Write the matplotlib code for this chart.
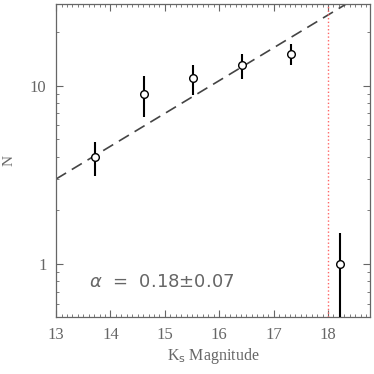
import numpy as np
import matplotlib
matplotlib.use("Agg")
import matplotlib.pyplot as plt
from matplotlib.ticker import MultipleLocator, FixedLocator, NullFormatter

# binned counts
mag = [13.72, 14.62, 15.52, 16.42, 17.32, 18.22]
counts = [4.0, 9.0, 11.0, 13.0, 15.0, 1.0]
err_lo = [0.87, 2.35, 2.1, 2.1, 2.0, 0.6]
err_hi = [0.85, 2.3, 2.05, 2.1, 2.1, 0.5]

# fitted power law, endpoints
fit_x = [13.0, 18.8]
fit_n = [3.0, 35.0]

lim_mag = 18.0
gray = "#666666"

fig = plt.figure(figsize=(3.74, 3.74), dpi=100)
ax = fig.add_axes([0.15, 0.152, 0.839, 0.837])

ax.plot(fit_x, fit_n, color="#444444", lw=1.2, ls=(0, (7, 4)))
ax.axvline(lim_mag, color="#ff6666", lw=1.0, ls=":")
ax.errorbar(mag, counts, yerr=[err_lo, err_hi], fmt="o", ms=5.5,
            mfc="white", mec="black", mew=1.0, ecolor="black",
            elinewidth=1.5, capsize=0, zorder=3)

ax.set_yscale("log")
ax.set_xlim(13, 18.77)
ax.set_ylim(0.504, 28.7)

serif = ["Liberation Serif", "DejaVu Serif"]
ax.xaxis.set_major_locator(MultipleLocator(1))
ax.xaxis.set_minor_locator(MultipleLocator(0.1))
ax.yaxis.set_major_locator(FixedLocator([1, 10]))
ax.yaxis.set_minor_locator(FixedLocator([0.6, 0.7, 0.8, 0.9, 2, 3, 4, 5, 6, 7, 8, 9, 20]))
ax.yaxis.set_minor_formatter(NullFormatter())
ax.set_yticklabels(["1", "10"])

ax.tick_params(which="both", direction="in", top=True, right=True,
               color=gray, labelcolor=gray, labelsize=12, pad=7)
ax.tick_params(which="major", length=5, width=0.8)
ax.tick_params(which="minor", length=2.5, width=0.6)
for lab in ax.get_xticklabels() + ax.get_yticklabels():
    lab.set_family(serif)
for s in ax.spines.values():
    s.set_color(gray)
    s.set_linewidth(0.9)

ax.set_xlabel(r"K$_{\rm s}$ Magnitude", family=serif, color=gray, fontsize=11.5, labelpad=2)
ax.set_ylabel("N", family=serif, color=gray, fontsize=11, labelpad=10)

ax.text(13.6, 0.79, r"$\alpha$  =  0.18$\pm$0.07", color=gray, fontsize=13,
        va="center", ha="left")

fig.savefig("out.png", dpi=100)
